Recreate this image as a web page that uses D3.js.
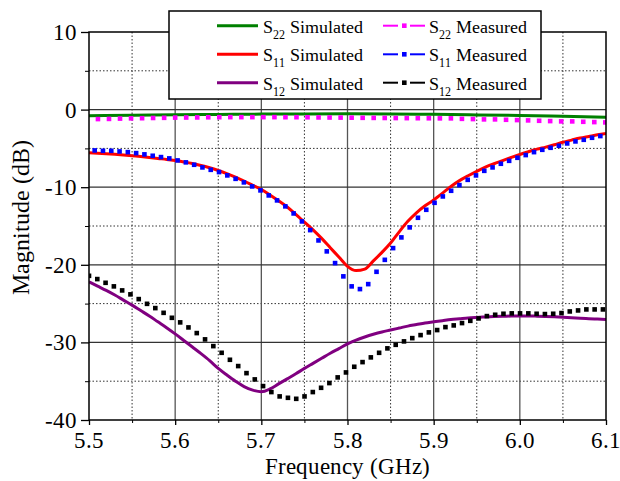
<!DOCTYPE html>
<html>
<head>
<meta charset="utf-8">
<script src="https://cdn.jsdelivr.net/npm/d3@7"></script>
<style>
  @font-face { font-family: "ChartSerif"; src: local("Liberation Serif"), local("LiberationSerif"), local("Times New Roman"); }
  body { margin: 0; background: #fff; }
  #s text { font-family: "ChartSerif", "Liberation Serif", "Times New Roman", serif; }
</style>
</head>
<body>
<svg id="s" width="620" height="481"></svg>
<script>
// ---- axes ----
const xTicks = [5.5, 5.6, 5.7, 5.8, 5.9, 6.0, 6.1];
const xMinorTicks = [5.55, 5.65, 5.75, 5.85, 5.95, 6.05];
const yTicks = [10, 0, -10, -20, -30, -40];
const yMinorTicks = [5, -5, -15, -25, -35];

// ---- simulated responses, 5.5–6.1 GHz in 10 MHz steps ----
const simFreq = d3.range(61).map(i => +(5.5 + i * 0.01).toFixed(2));

const s22SimFreq = [5.50, 5.55, 5.60, 5.65, 5.70, 5.75, 5.80, 5.85, 5.90, 5.95, 6.00, 6.05, 6.10];
const s22Sim = [-0.78, -0.72, -0.66, -0.62, -0.58, -0.56, -0.55, -0.57, -0.61, -0.68, -0.76, -0.86, -0.98];

const s11Sim = [
  -5.57, -5.62, -5.68, -5.76, -5.85, -5.95, -6.05, -6.17, -6.30, -6.42,
  -6.57, -6.75, -6.95, -7.20, -7.50, -7.85, -8.25, -8.70, -9.20, -9.75,
  -10.30, -11.00, -11.75, -12.55, -13.50, -14.50, -15.50, -16.60, -17.80, -19.00,
  -20.20, -20.75, -20.55, -19.50, -18.40, -17.20, -15.75, -14.40, -13.30, -12.40,
  -11.65, -10.80, -9.90, -9.15, -8.53, -7.95, -7.42, -6.98, -6.58, -6.17,
  -5.78, -5.43, -5.10, -4.83, -4.53, -4.20, -3.93, -3.67, -3.46, -3.25, -3.07
];

const s12Sim = [
  -22.20, -22.75, -23.30, -23.90, -24.55, -25.20, -25.90, -26.60, -27.35, -28.10,
  -28.90, -29.75, -30.60, -31.45, -32.35, -33.35, -34.20, -35.00, -35.70, -36.15,
  -36.35, -36.00, -35.35, -34.70, -34.05, -33.35, -32.70, -32.05, -31.40, -30.80,
  -30.20, -29.70, -29.30, -28.95, -28.65, -28.40, -28.15, -27.90, -27.70, -27.50,
  -27.35, -27.20, -27.05, -26.95, -26.85, -26.78, -26.72, -26.67, -26.63, -26.61,
  -26.60, -26.60, -26.62, -26.65, -26.70, -26.76, -26.82, -26.88, -26.94, -26.99, -27.04
];

// ---- measured responses (VNA sweeps) ----
const s22MeasStart = 5.5104, s22MeasStep = 0.0128;
const s22Meas = [
  -1.22, -1.20, -1.16, -1.13, -1.11, -1.08, -1.06, -1.03, -1.02, -1.01,
  -0.99, -0.98, -0.97, -0.97, -0.97, -0.97, -0.97, -0.98, -0.98, -0.99,
  -1.01, -1.02, -1.03, -1.04, -1.06, -1.07, -1.08, -1.09, -1.10, -1.11,
  -1.12, -1.13, -1.13, -1.19, -1.22, -1.26, -1.26, -1.31, -1.35, -1.39,
  -1.44, -1.48, -1.52, -1.52, -1.57, -1.61, -1.65
];

const s11MeasStart = 5.5066, s11MeasStep = 0.00962;
const s11Meas = [
  -5.26, -5.31, -5.31, -5.39, -5.48, -5.61, -5.77, -5.95, -6.12, -6.29,
  -6.55, -6.80, -7.11, -7.45, -7.76, -8.05, -8.48, -8.92, -9.38, -9.90,
  -10.41, -11.06, -11.70, -12.47, -13.38, -14.41, -15.53, -16.86, -18.27, -19.78,
  -21.49, -22.78, -23.13, -22.49, -20.90, -19.36, -17.85, -16.47, -15.18, -13.94,
  -12.91, -12.01, -11.19, -10.46, -9.73, -9.05, -8.48, -7.89, -7.45, -6.98,
  -6.60, -6.21, -5.86, -5.48, -5.18, -4.92, -4.66, -4.36, -4.10, -3.89, -3.63, -3.41
];

const s12MeasStart = 5.5, s12MeasStep = 0.00962;
const s12Meas = [
  -21.42, -21.84, -22.32, -22.78, -23.30, -23.81, -24.42, -25.03, -25.58, -26.19,
  -26.83, -27.42, -28.07, -28.80, -29.61, -30.48, -31.34, -32.24, -33.05, -33.96,
  -34.77, -35.63, -36.40, -36.96, -37.14, -37.27, -36.96, -36.40, -35.85, -35.24,
  -34.51, -33.87, -33.14, -32.54, -31.93, -31.34, -30.77, -30.31, -29.87, -29.45,
  -29.06, -28.71, -28.41, -28.03, -27.81, -27.51, -27.22, -26.91, -26.61, -26.44,
  -26.31, -26.26, -26.26, -26.26, -26.31, -26.35, -26.31, -26.22, -26.01, -25.88,
  -25.75, -25.75, -25.75
];

// ---- layout ----
const plot = { left: 89, right: 606, top: 32, bottom: 420 };

const svg = d3.select("#s");
const x = d3.scaleLinear().domain([5.5, 6.1]).range([plot.left, plot.right]);
const y = d3.scaleLinear().domain([-40, 10]).range([plot.bottom, plot.top]);

const sweep = (start, step, vals) => vals.map((v, i) => [start + i * step, v]);
const pairs = (fs, vals) => vals.map((v, i) => [fs[i], v]);

svg.append("defs").append("clipPath").attr("id", "plotClip")
  .append("rect")
  .attr("x", plot.left).attr("y", plot.top)
  .attr("width", plot.right - plot.left).attr("height", plot.bottom - plot.top);

// ---- grid ----
const grid = svg.append("g");
grid.selectAll(".vminor").data(xMinorTicks).join("line")
  .attr("x1", d => x(d)).attr("x2", d => x(d))
  .attr("y1", plot.top).attr("y2", plot.bottom)
  .attr("stroke", "#333").attr("stroke-width", 1).attr("stroke-dasharray", "1.5,2");
grid.selectAll(".hminor").data(yMinorTicks).join("line")
  .attr("y1", d => y(d)).attr("y2", d => y(d))
  .attr("x1", plot.left).attr("x2", plot.right)
  .attr("stroke", "#333").attr("stroke-width", 1).attr("stroke-dasharray", "1.5,2");
grid.selectAll(".vmajor").data(xTicks.slice(1, -1)).join("line")
  .attr("x1", d => x(d)).attr("x2", d => x(d))
  .attr("y1", plot.top).attr("y2", plot.bottom)
  .attr("stroke", "#555").attr("stroke-width", 1.3);
grid.selectAll(".hmajor").data(yTicks.slice(1, -1)).join("line")
  .attr("y1", d => y(d)).attr("y2", d => y(d))
  .attr("x1", plot.left).attr("x2", plot.right)
  .attr("stroke", "#333").attr("stroke-width", 1.3);

// ---- axes: ticks through d3.axis, labels as plain text ----
const gx = svg.append("g").attr("transform", `translate(0,${plot.bottom})`)
  .call(d3.axisBottom(x).tickValues(xTicks).tickFormat("").tickSizeInner(5).tickSizeOuter(0));
gx.select(".domain").remove();
gx.selectAll(".tick line").attr("stroke", "#000").attr("stroke-width", 1.3);
svg.append("g").attr("transform", `translate(0,${plot.bottom})`)
  .call(d3.axisBottom(x).tickValues(xMinorTicks).tickSize(3).tickFormat(""))
  .call(g => g.select(".domain").remove())
  .selectAll("line").attr("stroke", "#000");

const gy = svg.append("g").attr("transform", `translate(${plot.left},0)`)
  .call(d3.axisLeft(y).tickValues(yTicks).tickFormat("").tickSizeInner(8).tickSizeOuter(0));
gy.select(".domain").remove();
gy.selectAll(".tick line").attr("stroke", "#000").attr("stroke-width", 1.3);
svg.append("g").attr("transform", `translate(${plot.left},0)`)
  .call(d3.axisLeft(y).tickValues(yMinorTicks).tickSize(4).tickFormat(""))
  .call(g => g.select(".domain").remove())
  .selectAll("line").attr("stroke", "#000");

svg.append("g").selectAll("text").data(xTicks).join("text")
  .attr("x", d => x(d)).attr("y", plot.bottom + 28)
  .attr("text-anchor", "middle").attr("font-size", 23)
  .text(d3.format(".1f"));
svg.append("g").selectAll("text").data(yTicks).join("text")
  .attr("x", plot.left - 12).attr("y", d => y(d) + 8)
  .attr("text-anchor", "end").attr("font-size", 23)
  .text(d => String(d));

// ---- curves ----
const line = d3.line().x(d => x(d[0])).y(d => y(d[1])).curve(d3.curveMonotoneX);
const curves = svg.append("g").attr("clip-path", "url(#plotClip)");

const simSeries = [
  { data: pairs(s22SimFreq, s22Sim), color: "#008000" },
  { data: pairs(simFreq, s11Sim), color: "#ff0000" },
  { data: pairs(simFreq, s12Sim), color: "#800080" }
];
simSeries.forEach(s => {
  curves.append("path").datum(s.data).attr("d", line)
    .attr("fill", "none").attr("stroke", s.color).attr("stroke-width", 3)
    .attr("stroke-linejoin", "round");
});

const sq = 4.6;
const measSeries = [
  { data: sweep(s22MeasStart, s22MeasStep, s22Meas), color: "#ff00ff" },
  { data: sweep(s11MeasStart, s11MeasStep, s11Meas), color: "#0000ff" },
  { data: sweep(s12MeasStart, s12MeasStep, s12Meas), color: "#000000" }
];
measSeries.forEach(s => {
  curves.append("g").selectAll("rect").data(s.data).join("rect")
    .attr("x", d => x(d[0]) - sq / 2).attr("y", d => y(d[1]) - sq / 2)
    .attr("width", sq).attr("height", sq).attr("fill", s.color);
});

// ---- frame ----
svg.append("rect")
  .attr("x", plot.left).attr("y", plot.top)
  .attr("width", plot.right - plot.left).attr("height", plot.bottom - plot.top)
  .attr("fill", "none").attr("stroke", "#000").attr("stroke-width", 1.5);

// ---- axis titles ----
svg.append("text").attr("x", (plot.left + plot.right) / 2).attr("y", 474)
  .attr("text-anchor", "middle").attr("font-size", 23).text("Frequency (GHz)");
svg.append("text").attr("transform", "translate(29,217) rotate(-90)")
  .attr("text-anchor", "middle").attr("font-size", 24).text("Magnitude (dB)");

// ---- legend ----
const legendItems = [
  { sub: "22", label: "Simulated", color: "#008000", meas: false, col: 0, row: 0 },
  { sub: "11", label: "Simulated", color: "#ff0000", meas: false, col: 0, row: 1 },
  { sub: "12", label: "Simulated", color: "#800080", meas: false, col: 0, row: 2 },
  { sub: "22", label: "Measured", color: "#ff00ff", meas: true, col: 1, row: 0 },
  { sub: "11", label: "Measured", color: "#0000ff", meas: true, col: 1, row: 1 },
  { sub: "12", label: "Measured", color: "#000000", meas: true, col: 1, row: 2 }
];
const legend = svg.append("g");
legend.append("rect").attr("x", 169).attr("y", 11).attr("width", 372).attr("height", 88)
  .attr("fill", "#fff").attr("stroke", "#000").attr("stroke-width", 1.5);

const colX = [217, 383], rowY = [25.7, 54.3, 82.7], sampleW = 41;
legendItems.forEach(it => {
  const x0 = colX[it.col], yy = rowY[it.row];
  const g = legend.append("g");
  if (!it.meas) {
    g.append("line").attr("x1", x0).attr("x2", x0 + sampleW).attr("y1", yy).attr("y2", yy)
      .attr("stroke", it.color).attr("stroke-width", 3);
  } else {
    g.append("line").attr("x1", x0).attr("x2", x0 + 15).attr("y1", yy).attr("y2", yy)
      .attr("stroke", it.color).attr("stroke-width", 2);
    g.append("rect").attr("x", x0 + 19).attr("y", yy - 2.3).attr("width", 4.6).attr("height", 4.6)
      .attr("fill", it.color);
    g.append("line").attr("x1", x0 + 27).attr("x2", x0 + 42).attr("y1", yy).attr("y2", yy)
      .attr("stroke", it.color).attr("stroke-width", 2);
  }
  const t = g.append("text").attr("x", x0 + sampleW + 4.5).attr("y", yy + 7).attr("font-size", 17.5);
  t.append("tspan").text("S");
  t.append("tspan").attr("dy", 6).attr("font-size", 12).text(it.sub);
  t.append("tspan").attr("dy", -6).text(" " + it.label);
});
</script>
</body>
</html>
